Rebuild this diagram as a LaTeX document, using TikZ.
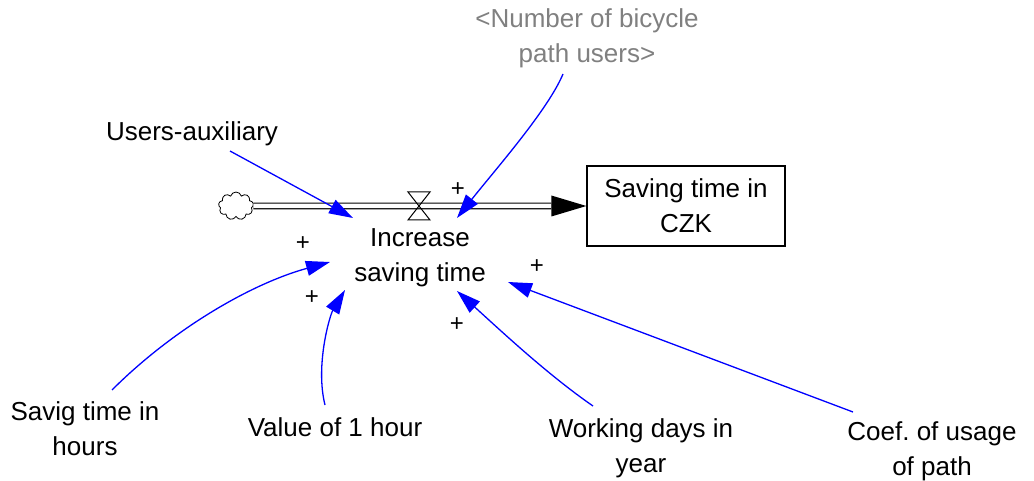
\documentclass[tikz,border=0pt]{standalone}
\usepackage{fontspec}
\setmainfont{Liberation Sans}
\usetikzlibrary{arrows.meta,shapes.symbols,calc}
\definecolor{linkblue}{RGB}{0,0,255}
\definecolor{shadowgray}{RGB}{128,128,128}
\begin{document}
\frenchspacing
\begin{tikzpicture}[x=1pt,y=-1pt,
  every node/.style={font=\fontsize{26}{35}\selectfont, align=center},
  var/.style={inner sep=3pt},
  link/.style={draw=linkblue, line width=1.3pt, -{Triangle[length=24pt,width=15pt]}},
  pol/.style={font=\fontsize{24}{24}\selectfont, inner sep=0pt},
  pipe/.style={line width=1.2pt, double=white, double distance=4.5pt},
  valveline/.style={line width=1pt}
]
\useasboundingbox (0,0) rectangle (1034,481);

% variables
\node[var] (users) at (192,134) {Users-auxiliary};
\node[var, text=shadowgray] (num) at (587,38) {<Number of bicycle\\path users>};
\node[inner sep=0pt, minimum width=180pt, minimum height=74pt] (inc) at (420,258) {Increase\\saving time};
\node[draw, line width=1.2pt, minimum width=198pt, minimum height=80pt] (stock) at (686,206) {Saving time in\\CZK};
\node[cloud, draw, cloud puffs=9, minimum width=35pt, minimum height=28pt, inner sep=0pt, line width=0.8pt] (cloud) at (236,206) {};
\node[var] (sav) at (85,429) {Savig time in\\hours};
\node[var] (val) at (335,427) {Value of 1 hour};
\node[var] (work) at (641,448) {Working days in\\year};
\node[var] (coef) at (932,451) {Coef. of usage\\of path};

% flow pipe
\draw[pipe] (cloud.east) -- ($(stock.west)+(-35,0)$);
\fill ($(stock.west)+(-35,-10.5)$) -- (stock.west) -- ($(stock.west)+(-35,10.5)$) -- cycle;
\coordinate (valve) at (419,206);
\draw[valveline] (valve) -- ++(-11,-14) -- ++(22,0) -- cycle;
\draw[valveline] (valve) -- ++(-11,14) -- ++(22,0) -- cycle;

% links
\draw[link] ($(users.center)+(38,17)$) -- ($(inc.center)+(-67,-40)$);
\draw[link] ($(num.center)+(-24,36)$) .. controls (548,110) and (495,170) .. ($(inc.center)+(37,-40)$);
\draw[link] ($(sav.center)+(27,-39)$) .. controls (172,330) and (250,284) .. ($(inc.center)+(-90,4)$);
\draw[link] ($(val.center)+(-10,-22)$) .. controls (315,365) and (330,315) .. ($(inc.center)+(-75,32)$);
\draw[link] ($(work.center)+(-48,-42)$) .. controls (548,375) and (500,330) .. ($(inc.center)+(37,33)$);
\draw[link] ($(coef.center)+(-79,-39)$) -- ($(inc.center)+(88,24)$);

% polarities
\node[pol] (p1) at (458,190) {+};
\node[pol] (p2) at (303,244) {+};
\node[pol] (p3) at (312,298) {+};
\node[pol] (p4) at (457,325) {+};
\node[pol] (p5) at (537,267) {+};
\end{tikzpicture}
\end{document}
